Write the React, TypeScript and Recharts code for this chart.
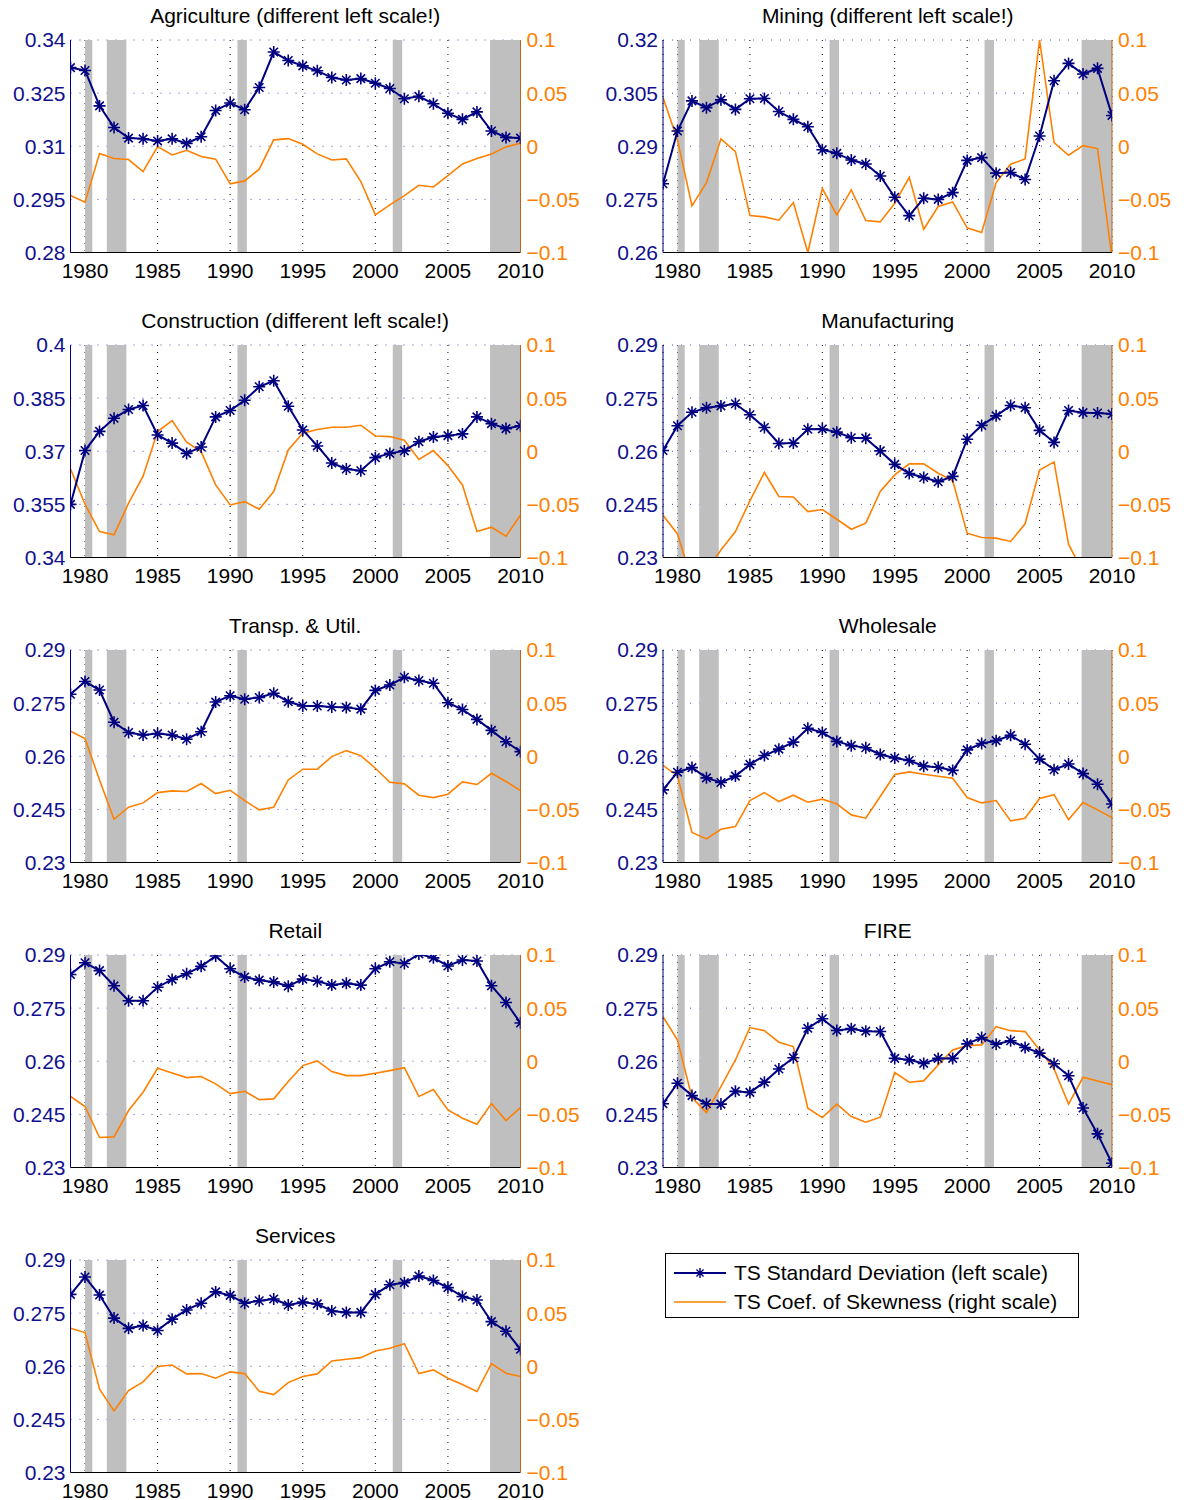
import React from "react";
import {
  ComposedChart,
  Line,
  XAxis,
  YAxis,
  CartesianGrid,
  ReferenceArea,
} from "recharts";

const YEARS = [
  1979, 1980, 1981, 1982, 1983, 1984, 1985, 1986, 1987, 1988, 1989, 1990, 1991, 1992, 1993, 1994,
  1995, 1996, 1997, 1998, 1999, 2000, 2001, 2002, 2003, 2004, 2005, 2006, 2007, 2008, 2009, 2010,
];
const YEAR_TICKS = [1980, 1985, 1990, 1995, 2000, 2005, 2010];
const SKEW_TICKS = [-0.1, -0.05, 0, 0.05, 0.1];
const RECESSIONS = [
  [1980.0, 1980.5],
  [1981.5, 1982.85],
  [1990.5, 1991.15],
  [2001.2, 2001.85],
  [2007.9, 2010],
];

const agricultureTicks = [0.28, 0.295, 0.31, 0.325, 0.34];
const miningTicks = [0.26, 0.275, 0.29, 0.305, 0.32];
const constructionTicks = [0.34, 0.355, 0.37, 0.385, 0.4];
const commonTicks = [0.23, 0.245, 0.26, 0.275, 0.29];

const agricultureStd = [0.3322, 0.3314, 0.3214, 0.3153, 0.3123, 0.3121, 0.3115, 0.3121, 0.3108, 0.3127, 0.3201, 0.3222, 0.3203, 0.3266, 0.3366, 0.3342, 0.3327, 0.3313, 0.3294, 0.3287, 0.3291, 0.3278, 0.3263, 0.3234, 0.3241, 0.322, 0.3193, 0.3176, 0.3197, 0.3143, 0.3125, 0.3123];
const agricultureSkew = [-0.0464, -0.0527, -0.0069, -0.0116, -0.0125, -0.0238, -0.0003, -0.0082, -0.0038, -0.0097, -0.0122, -0.0354, -0.0326, -0.0216, 0.006, 0.0072, 0.0019, -0.0072, -0.0129, -0.0119, -0.0332, -0.0646, -0.0552, -0.0464, -0.0367, -0.0383, -0.0276, -0.0166, -0.0116, -0.0072, -0.0006, 0.0028];

const miningStd = [0.2794, 0.2943, 0.3028, 0.3009, 0.3031, 0.3004, 0.3034, 0.3035, 0.2998, 0.2976, 0.2955, 0.289, 0.288, 0.2861, 0.285, 0.2816, 0.2756, 0.2704, 0.2753, 0.275, 0.2769, 0.286, 0.2868, 0.2824, 0.2826, 0.2806, 0.2929, 0.3085, 0.3134, 0.3104, 0.312, 0.2987];
const miningSkew = [0.0458, 0.006, -0.0561, -0.0342, 0.0069, -0.005, -0.0652, -0.0665, -0.0696, -0.053, -0.1, -0.0398, -0.0646, -0.0411, -0.0699, -0.0712, -0.0536, -0.0292, -0.0781, -0.0567, -0.0524, -0.0768, -0.0812, -0.0342, -0.0169, -0.0119, 0.1, 0.0034, -0.0085, 0.0006, -0.0022, -0.105];

const constructionStd = [0.355, 0.3702, 0.3756, 0.3793, 0.3818, 0.3829, 0.3746, 0.3723, 0.3694, 0.3712, 0.3797, 0.3815, 0.3844, 0.3882, 0.3899, 0.3827, 0.376, 0.3715, 0.3667, 0.365, 0.3645, 0.3682, 0.3694, 0.3701, 0.3727, 0.374, 0.3744, 0.3749, 0.3797, 0.3778, 0.3764, 0.3772];
const constructionSkew = [-0.0166, -0.0499, -0.0756, -0.0787, -0.0489, -0.0235, 0.0185, 0.0288, 0.0085, -0.0003, -0.0317, -0.0505, -0.0474, -0.0546, -0.0379, 0.0012, 0.0169, 0.0204, 0.0226, 0.0226, 0.0245, 0.0144, 0.0138, 0.0103, -0.0078, 0.0006, -0.0135, -0.0317, -0.0756, -0.0715, -0.08, -0.06];

const manufacturingStd = [0.2602, 0.2672, 0.271, 0.2723, 0.2728, 0.2734, 0.2703, 0.2667, 0.2622, 0.2623, 0.2662, 0.2663, 0.2654, 0.2638, 0.2637, 0.2601, 0.2563, 0.2537, 0.2526, 0.2514, 0.2529, 0.2634, 0.2673, 0.27, 0.2729, 0.2723, 0.2659, 0.2625, 0.2715, 0.2709, 0.2708, 0.2705];
const manufacturingSkew = [-0.0602, -0.0778, -0.122, -0.112, -0.093, -0.0756, -0.0467, -0.02, -0.0426, -0.043, -0.0568, -0.0549, -0.064, -0.0734, -0.0677, -0.0379, -0.0223, -0.0119, -0.0119, -0.0207, -0.0276, -0.0771, -0.0812, -0.0818, -0.0849, -0.0683, -0.0176, -0.01, -0.0875, -0.114, -0.125, -0.13];

const transpStd = [0.2775, 0.2811, 0.2787, 0.2696, 0.2667, 0.266, 0.2664, 0.266, 0.2648, 0.2669, 0.2753, 0.2771, 0.2761, 0.2766, 0.2778, 0.2754, 0.2742, 0.2742, 0.2739, 0.2738, 0.2733, 0.2786, 0.2801, 0.2823, 0.2814, 0.2806, 0.2751, 0.2732, 0.2704, 0.2673, 0.2641, 0.2613];
const transpSkew = [0.0235, 0.0166, -0.0223, -0.0593, -0.048, -0.0439, -0.0342, -0.0326, -0.0332, -0.0257, -0.0351, -0.032, -0.0417, -0.0505, -0.048, -0.0223, -0.0122, -0.0122, -0.0003, 0.0053, 0.0006, -0.0113, -0.0245, -0.026, -0.0367, -0.0389, -0.0357, -0.0241, -0.0266, -0.016, -0.0238, -0.0323];

const wholesaleStd = [0.2505, 0.2555, 0.2568, 0.2539, 0.2526, 0.2544, 0.2577, 0.2602, 0.262, 0.264, 0.2679, 0.2667, 0.2642, 0.263, 0.2624, 0.2605, 0.2595, 0.2588, 0.2572, 0.2569, 0.256, 0.2618, 0.2636, 0.2644, 0.2659, 0.2634, 0.2592, 0.2562, 0.2578, 0.2551, 0.2521, 0.2465];
const wholesaleSkew = [-0.0085, -0.0185, -0.0718, -0.0778, -0.0687, -0.0662, -0.0417, -0.0342, -0.0426, -0.0367, -0.0433, -0.0404, -0.0448, -0.0552, -0.0583, -0.0379, -0.0172, -0.0147, -0.0169, -0.0188, -0.0207, -0.0389, -0.0439, -0.0417, -0.0608, -0.0583, -0.0398, -0.0361, -0.0596, -0.0436, -0.0505, -0.0577];

const retailStd = [0.2845, 0.2878, 0.2856, 0.2813, 0.2771, 0.2771, 0.2809, 0.2831, 0.2847, 0.2868, 0.2897, 0.2861, 0.2838, 0.2829, 0.2824, 0.2812, 0.2832, 0.2826, 0.2815, 0.282, 0.2815, 0.2861, 0.2881, 0.2876, 0.2903, 0.2892, 0.2869, 0.2886, 0.2883, 0.2813, 0.2766, 0.2708];
const retailSkew = [-0.0332, -0.0426, -0.0718, -0.0712, -0.0464, -0.0292, -0.0066, -0.011, -0.0154, -0.0144, -0.0213, -0.0304, -0.0282, -0.0361, -0.0354, -0.0191, -0.0041, 0.0003, -0.0097, -0.0135, -0.0135, -0.0113, -0.0088, -0.006, -0.0332, -0.0266, -0.0458, -0.0536, -0.0593, -0.0398, -0.0558, -0.0436];

const fireStd = [0.248, 0.2538, 0.2503, 0.248, 0.2479, 0.2515, 0.2512, 0.2541, 0.2578, 0.261, 0.2693, 0.272, 0.2687, 0.2692, 0.2685, 0.2684, 0.2608, 0.2604, 0.2594, 0.2608, 0.2608, 0.2649, 0.2667, 0.2648, 0.2658, 0.2639, 0.2623, 0.2593, 0.2559, 0.2468, 0.2395, 0.2312];
const fireSkew = [0.042, 0.02, -0.0342, -0.0483, -0.0238, 0.0012, 0.0317, 0.0288, 0.0179, 0.0138, -0.0442, -0.053, -0.0404, -0.052, -0.0574, -0.0527, -0.0107, -0.0198, -0.0185, -0.0034, 0.0107, 0.0147, 0.0154, 0.0326, 0.0288, 0.0279, 0.0107, -0.0072, -0.0404, -0.0151, -0.0185, -0.022];

const servicesStd = [0.2803, 0.2852, 0.2801, 0.2736, 0.2707, 0.2715, 0.2701, 0.2733, 0.2759, 0.2778, 0.281, 0.28, 0.2778, 0.2785, 0.279, 0.2773, 0.2781, 0.2776, 0.2756, 0.2752, 0.2752, 0.2803, 0.283, 0.2836, 0.2855, 0.2842, 0.2822, 0.2797, 0.2787, 0.2726, 0.2699, 0.2648];
const servicesSkew = [0.0357, 0.0317, -0.0216, -0.042, -0.0229, -0.0147, -0.0003, 0.0012, -0.0072, -0.0069, -0.0113, -0.0053, -0.0069, -0.0235, -0.0266, -0.0154, -0.0097, -0.0072, 0.005, 0.0066, 0.0081, 0.0144, 0.0169, 0.0213, -0.0069, -0.0034, -0.0113, -0.0172, -0.0238, 0.0025, -0.0066, -0.0097];

const PANELS = [
  { title: "Agriculture (different left scale!)", std: agricultureStd, skew: agricultureSkew, ticks: agricultureTicks },
  { title: "Mining (different left scale!)", std: miningStd, skew: miningSkew, ticks: miningTicks },
  { title: "Construction (different left scale!)", std: constructionStd, skew: constructionSkew, ticks: constructionTicks },
  { title: "Manufacturing", std: manufacturingStd, skew: manufacturingSkew, ticks: commonTicks },
  { title: "Transp. & Util.", std: transpStd, skew: transpSkew, ticks: commonTicks },
  { title: "Wholesale", std: wholesaleStd, skew: wholesaleSkew, ticks: commonTicks },
  { title: "Retail", std: retailStd, skew: retailSkew, ticks: commonTicks },
  { title: "FIRE", std: fireStd, skew: fireSkew, ticks: commonTicks },
  { title: "Services", std: servicesStd, skew: servicesSkew, ticks: commonTicks },
];

const NAVY = "#000080";
const ORANGE = "#ff8000";
const FONT = "'Liberation Sans', Arial, Helvetica, sans-serif";

const CHART_W = 592;
const CHART_H = 290;
const PLOT_TOP = 40;
const ROW_STEP = 305;

function starPath(cx: number, cy: number, r: number) {
  const d = r * 0.7071;
  return `M${cx - r},${cy}L${cx + r},${cy}M${cx},${cy - r}L${cx},${cy + r}` +
    `M${cx - d},${cy - d}L${cx + d},${cy + d}M${cx - d},${cy + d}L${cx + d},${cy - d}`;
}

const StarDot = (props: any) => {
  const { cx, cy, index } = props;
  if (cx == null || cy == null) return <g key={`s${index}`} />;
  return <path key={`s${index}`} d={starPath(cx, cy, 6)} stroke={NAVY} strokeWidth={1.6} fill="none" />;
};

const minus = (v: number) => String(v).replace("-", "\u2212");

function Panel({ panel, col }: { panel: (typeof PANELS)[number]; col: number }) {
  const data = YEARS.map((year, i) => ({ year, std: panel.std[i], skew: panel.skew[i] }));
  const leftW = col === 0 ? 70.5 : 71;
  const rightW = col === 0 ? 71.5 : 72;
  const lo = panel.ticks[0];
  const hi = panel.ticks[panel.ticks.length - 1];
  return (
    <ComposedChart width={CHART_W} height={CHART_H} data={data} margin={{ top: PLOT_TOP, right: 0, bottom: 0, left: 0 }}>
      <XAxis xAxisId="top" orientation="top" dataKey="year" type="number" domain={[1979, 2010]} allowDataOverflow
        height={0} tick={false} tickLine={false} axisLine={{ stroke: "#000", strokeWidth: 1 }} />
      <XAxis dataKey="year" type="number" domain={[1979, 2010]} allowDataOverflow ticks={YEAR_TICKS} interval={0}
        height={37.5} tickLine={false} tickSize={0} tickMargin={11}
        axisLine={{ stroke: "#000", strokeWidth: 1 }} tick={{ fill: "#000", fontSize: 21 }} />
      <YAxis yAxisId="left" orientation="left" domain={[lo, hi]} allowDataOverflow ticks={panel.ticks} interval={0}
        width={leftW} tickLine={false} tickSize={0} tickMargin={5}
        axisLine={{ stroke: NAVY, strokeWidth: 1 }} tick={{ fill: "#10108f", fontSize: 21 }} />
      <YAxis yAxisId="right" orientation="right" domain={[-0.1, 0.1]} allowDataOverflow ticks={SKEW_TICKS} interval={0}
        width={rightW} tickLine={false} tickSize={0} tickMargin={6} tickFormatter={minus}
        axisLine={{ stroke: "#b9651f", strokeWidth: 1 }} tick={{ fill: ORANGE, fontSize: 21 }} />
      {RECESSIONS.map(([a, b], i) => (
        <ReferenceArea key={i} yAxisId="left" x1={a} x2={b} y1={lo} y2={hi} fill="#bfbfbf" fillOpacity={1}
          stroke="none" ifOverflow="hidden" />
      ))}
      <CartesianGrid yAxisId="left" vertical={false} stroke="#4a4ac0" strokeDasharray="1 8" />
      <CartesianGrid yAxisId="left" horizontal={false} stroke="#000" strokeDasharray="1 6" />
      <Line yAxisId="right" dataKey="skew" stroke={ORANGE} strokeWidth={1.6} dot={false} isAnimationActive={false} />
      <Line yAxisId="left" dataKey="std" stroke={NAVY} strokeWidth={2} dot={StarDot} activeDot={false}
        isAnimationActive={false} />
    </ComposedChart>
  );
}

function Legend() {
  const row = (label: string, star: boolean, color: string) => (
    <div style={{ display: "flex", alignItems: "center", height: 29 }}>
      <svg width={56} height={20} style={{ marginRight: 6 }}>
        <line x1={2} y1={10} x2={54} y2={10} stroke={color} strokeWidth={star ? 2 : 1.6} />
        {star && <path d={starPath(28, 10, 5)} stroke={color} strokeWidth={1.4} fill="none" />}
      </svg>
      <span style={{ fontSize: 21, color: "#000", whiteSpace: "nowrap" }}>{label}</span>
    </div>
  );
  return (
    <div style={{ position: "absolute", left: 665, top: 1253, width: 414, height: 65, border: "1.5px solid #000",
      boxSizing: "border-box", padding: "4px 0 0 6px", background: "#fff" }}>
      {row("TS Standard Deviation (left scale)", true, NAVY)}
      {row("TS Coef. of Skewness (right scale)", false, ORANGE)}
    </div>
  );
}

export default function App() {
  return (
    <div style={{ position: "absolute", left: 0, top: 0, width: 1184, height: 1500, background: "#fff", fontFamily: FONT }}>
      {PANELS.map((p, i) => {
        const col = i % 2;
        const row = Math.floor(i / 2);
        const left = col * CHART_W;
        const top = row * ROW_STEP;
        const plotLeft = left + (col === 0 ? 70.5 : 71);
        return (
          <React.Fragment key={p.title}>
            <div style={{ position: "absolute", left, top }}>
              <Panel panel={p} col={col} />
            </div>
            <div style={{ position: "absolute", left: plotLeft, top: top + 4, width: 449.5, textAlign: "center",
              fontSize: 21, lineHeight: "24px", color: "#000", whiteSpace: "nowrap" }}>
              {p.title}
            </div>
          </React.Fragment>
        );
      })}
      <Legend />
    </div>
  );
}
